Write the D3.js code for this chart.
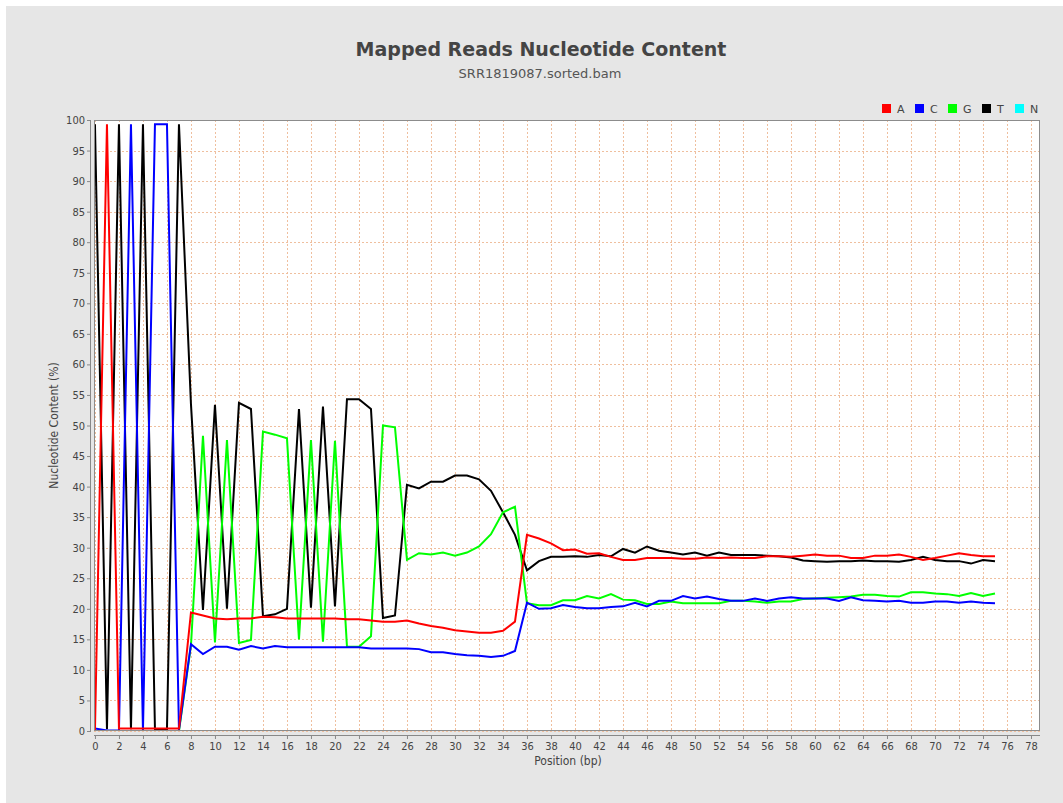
<!DOCTYPE html>
<html><head><meta charset="utf-8">
<script src="https://cdn.jsdelivr.net/npm/d3@7"></script>
<style>
html,body{margin:0;padding:0;background:#fff;}
svg{display:block;}
text{font-family:"DejaVu Sans Condensed","DejaVu Sans",sans-serif;}
</style></head>
<body>
<script>
// ---- data ----
const title = "Mapped Reads Nucleotide Content";
const subtitle = "SRR1819087.sorted.bam";
const xLabel = "Position (bp)";
const yLabel = "Nucleotide Content (%)";
const seriesNames = ["A","C","G","T","N"];
const seriesColors = ["#ff0000","#0000ff","#00ff00","#000000","#00ffff"];
const xTicks = [0,2,4,6,8,10,12,14,16,18,20,22,24,26,28,30,32,34,36,38,40,42,44,46,48,50,52,54,56,58,60,62,64,66,68,70,72,74,76,78];
const yTicks = [0,5,10,15,20,25,30,35,40,45,50,55,60,65,70,75,80,85,90,95,100];

const valuesA = [0,99.3,0.4,0.4,0.4,0.4,0.4,0.4,19.4,18.9,
 18.4,18.3,18.4,18.4,18.7,18.6,18.4,18.4,18.4,18.4,
 18.4,18.3,18.3,18.1,17.9,17.9,18.1,17.6,17.2,16.9,
 16.5,16.3,16.1,16.1,16.4,17.9,32.1,31.5,30.7,29.6,
 29.7,29.0,29.1,28.5,28.0,28.0,28.3,28.3,28.3,28.2,
 28.2,28.4,28.3,28.4,28.3,28.3,28.6,28.6,28.5,28.7,
 28.9,28.7,28.7,28.3,28.3,28.7,28.7,28.9,28.5,28.0,
 28.3,28.7,29.1,28.8,28.6,28.6];
const valuesC = [0.4,0.1,0.1,99.3,0.1,99.3,99.3,0.2,14.2,12.6,
 13.8,13.8,13.3,13.9,13.5,13.9,13.7,13.7,13.7,13.7,
 13.7,13.7,13.7,13.5,13.5,13.5,13.5,13.4,12.9,12.9,
 12.6,12.4,12.3,12.1,12.3,13.1,21.0,20.0,20.1,20.6,
 20.3,20.1,20.1,20.3,20.4,21.0,20.4,21.3,21.3,22.1,
 21.7,22.0,21.6,21.3,21.3,21.7,21.3,21.7,21.9,21.7,
 21.7,21.7,21.3,21.9,21.4,21.3,21.2,21.3,21.0,21.0,
 21.2,21.2,21.0,21.2,21.0,20.9];
const valuesG = [0,0,0,0,0,0,0,0,14.0,48.3,
 14.5,47.6,14.4,14.9,49.0,48.5,47.9,15.0,47.6,14.6,
 47.5,13.8,13.8,15.5,50.0,49.7,28.0,29.1,28.9,29.2,
 28.7,29.2,30.2,32.2,35.8,36.7,20.9,20.6,20.6,21.4,
 21.4,22.1,21.7,22.4,21.5,21.4,20.8,20.8,21.2,20.9,
 20.9,20.9,20.9,21.3,21.3,21.2,21.0,21.2,21.2,21.6,
 21.7,21.8,21.9,22.0,22.3,22.3,22.1,22.0,22.7,22.7,
 22.5,22.4,22.1,22.6,22.1,22.5];
const valuesT = [99.3,0.3,99.3,0.3,99.3,0.3,0.3,99.3,53.5,19.8,
 53.4,20.0,53.7,52.7,18.8,19.1,20.0,52.7,20.2,53.1,
 20.4,54.3,54.3,52.7,18.5,18.9,40.3,39.7,40.8,40.8,
 41.8,41.8,41.2,39.3,35.8,32.1,26.3,27.8,28.5,28.5,
 28.6,28.5,28.8,28.6,29.8,29.2,30.2,29.5,29.2,28.9,
 29.2,28.7,29.2,28.8,28.8,28.8,28.7,28.6,28.4,27.9,
 27.8,27.7,27.8,27.8,27.9,27.8,27.8,27.7,28.0,28.5,
 28.0,27.8,27.8,27.4,28.0,27.8];
const valuesN = [0,0,0,0,0,0,0,0,0,0, 0,0,0,0,0,0,0,0,0,0,
 0,0,0,0,0,0,0,0,0,0, 0,0,0,0,0,0,0,0,0,0,
 0,0,0,0,0,0,0,0,0,0, 0,0,0,0,0,0,0,0,0,0,
 0,0,0,0,0,0,0,0,0,0, 0,0,0,0,0,0];
const seriesValues = [valuesA, valuesC, valuesG, valuesT, valuesN];

// ---- layout ----
const W = 1063, H = 803;
const plot = {left:94, right:1040, top:120, bottom:731};

const svg = d3.select("body").append("svg").attr("width", W).attr("height", H);
svg.append("rect").attr("x",6).attr("y",6).attr("width",W-6).attr("height",H-6).attr("fill","#e6e6e6");

const x = d3.scaleLinear().domain([-0.08, 78.75]).range([plot.left, plot.right]);
const y = d3.scaleLinear().domain([0, 100]).range([plot.bottom, plot.top]);

// titles
svg.append("text").attr("x", 541).attr("y", 56).attr("text-anchor","middle")
  .style("font-family","'DejaVu Sans',sans-serif").style("font-weight","bold").style("font-size","19px")
  .attr("fill","#444").text(title);
svg.append("text").attr("x", 540).attr("y", 78).attr("text-anchor","middle")
  .style("font-family","'DejaVu Sans',sans-serif").style("font-size","13px")
  .attr("fill","#555").text(subtitle);

// plot background
svg.append("rect").attr("x",plot.left).attr("y",plot.top)
  .attr("width",plot.right-plot.left).attr("height",plot.bottom-plot.top).attr("fill","#fff");

// grid
const grid = svg.append("g");
grid.selectAll("line.v").data(xTicks).join("line")
  .attr("x1",d=>Math.round(x(d))+0.5).attr("x2",d=>Math.round(x(d))+0.5)
  .attr("y1",plot.top).attr("y2",plot.bottom)
  .attr("stroke","#efbf9e").attr("stroke-width",1).attr("stroke-dasharray","2,2");
grid.selectAll("line.h").data(yTicks).join("line")
  .attr("y1",d=>Math.round(y(d))+0.5).attr("y2",d=>Math.round(y(d))+0.5)
  .attr("x1",plot.left).attr("x2",plot.right)
  .attr("stroke","#efbf9e").attr("stroke-width",1).attr("stroke-dasharray","2,2");

// clip
svg.append("clipPath").attr("id","clip").append("rect")
  .attr("x",plot.left).attr("y",plot.top).attr("width",plot.right-plot.left).attr("height",plot.bottom-plot.top);

const line = d3.line().x((d,i)=>x(i)).y(d=>y(d));
const lines = svg.append("g").attr("clip-path","url(#clip)");
// first series drawn on top (reverse rendering order)
for (let s = seriesNames.length-1; s >= 0; s--) {
  lines.append("path").datum(seriesValues[s]).attr("d", line)
    .attr("fill","none").attr("stroke", seriesColors[s]).attr("stroke-width",2)
    .attr("stroke-linejoin","miter");
}

// plot border
svg.append("rect").attr("x",plot.left+0.5).attr("y",plot.top+0.5)
  .attr("width",plot.right-plot.left-1).attr("height",plot.bottom-plot.top-1)
  .attr("fill","none").attr("stroke","#8c8c8c").attr("stroke-width",1);

// axes
const xAxis = d3.axisBottom(x).tickValues(xTicks).tickSize(4).tickPadding(3).tickFormat(d3.format("d"));
const gx = svg.append("g").attr("transform",`translate(0,${plot.bottom+4})`).call(xAxis);
gx.select(".domain").attr("d",`M${plot.left},0.5H${plot.right}`).attr("stroke","#888");
gx.selectAll(".tick line").attr("stroke","#888");
gx.selectAll("text").attr("fill","#444").style("font-size","11px");

const yAxis = d3.axisLeft(y).tickValues(yTicks).tickSize(4).tickPadding(2).tickFormat(d3.format("d"));
const gy = svg.append("g").attr("transform",`translate(${plot.left-3},0)`).call(yAxis);
gy.select(".domain").attr("d",`M-0.5,${plot.top}V${plot.bottom}`).attr("stroke","#888");
gy.selectAll(".tick line").attr("stroke","#888");
gy.selectAll("text").attr("fill","#444").style("font-size","11px");

// axis labels
svg.append("text").attr("x", 568).attr("y", 765).attr("text-anchor","middle")
  .attr("fill","#444").style("font-size","12px").text(xLabel);
svg.append("text").attr("transform",`translate(58,${(plot.top+plot.bottom)/2}) rotate(-90)`)
  .attr("text-anchor","middle").attr("fill","#444").style("font-size","12px").text(yLabel);

// legend
const legendX = [882, 915, 948, 982, 1015];
const lg = svg.append("g");
seriesNames.forEach((n,i)=>{
  lg.append("rect").attr("x",legendX[i]).attr("y",104).attr("width",9).attr("height",9).attr("fill",seriesColors[i]);
  lg.append("text").attr("x",legendX[i]+15).attr("y",113).attr("fill","#444")
    .style("font-family","'DejaVu Sans',sans-serif").style("font-size","11px").text(n);
});
</script>
</body></html>
